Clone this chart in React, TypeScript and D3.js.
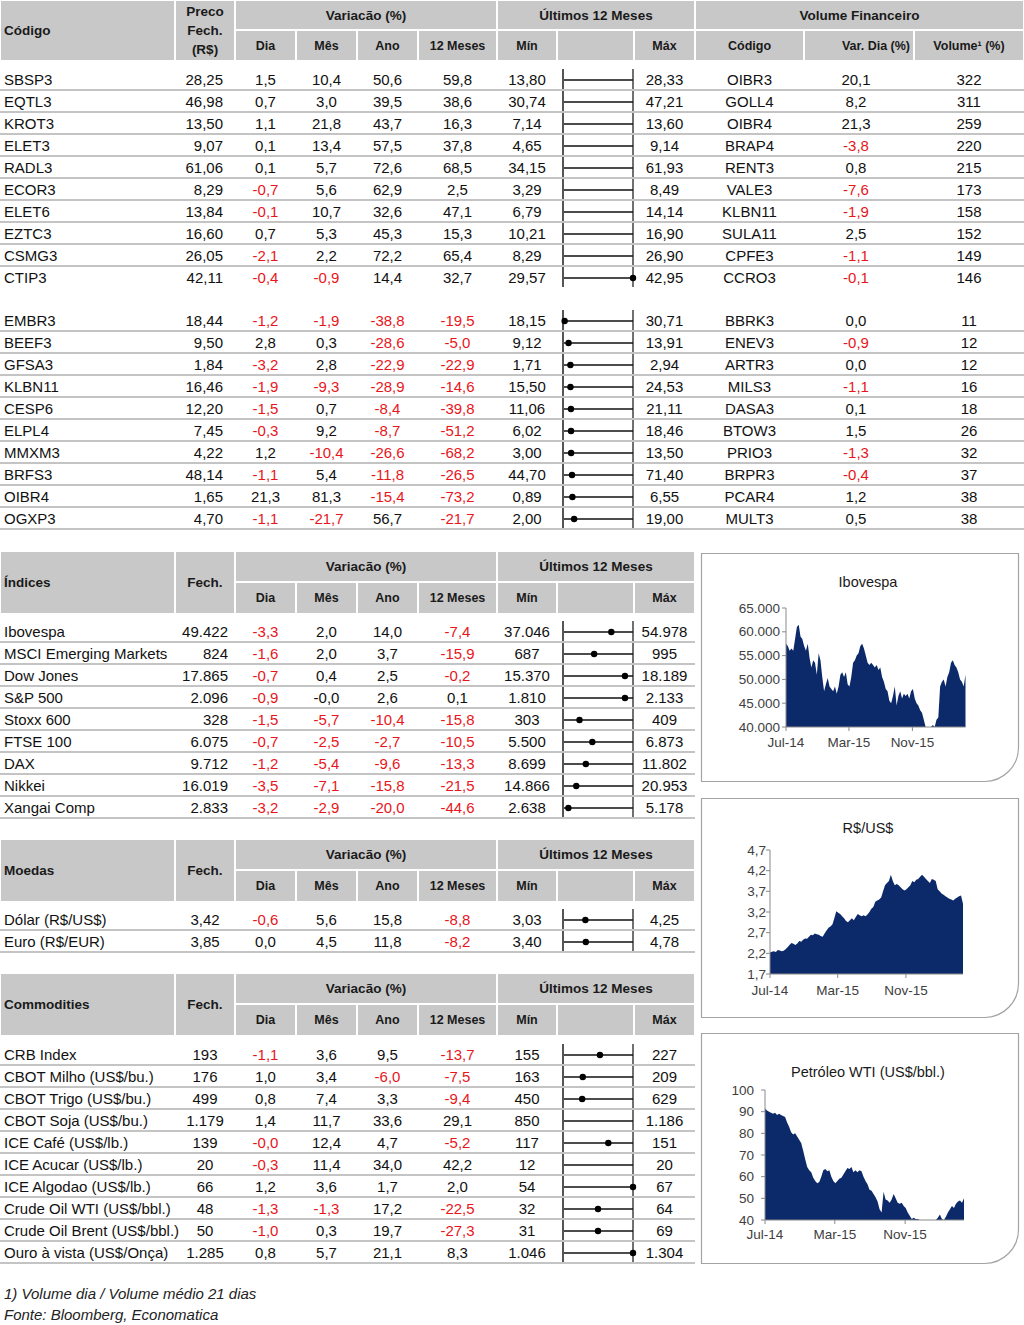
import React from "react";
import * as d3 from "d3";

// ---------------- DATA ----------------
// Top table, block 1 (maiores altas 12m)
const altaCodigo = ["SBSP3", "EQTL3", "KROT3", "ELET3", "RADL3", "ECOR3", "ELET6", "EZTC3", "CSMG3", "CTIP3"];
const altaPreco = [28.25, 46.98, 13.5, 9.07, 61.06, 8.29, 13.84, 16.6, 26.05, 42.11];
const altaDia = [1.5, 0.7, 1.1, 0.1, 0.1, -0.7, -0.1, 0.7, -2.1, -0.4];
const altaMes = [10.4, 3.0, 21.8, 13.4, 5.7, 5.6, 10.7, 5.3, 2.2, -0.9];
const altaAno = [50.6, 39.5, 43.7, 57.5, 72.6, 62.9, 32.6, 45.3, 72.2, 14.4];
const alta12m = [59.8, 38.6, 16.3, 37.8, 68.5, 2.5, 47.1, 15.3, 65.4, 32.7];
const altaMin = [13.8, 30.74, 7.14, 4.65, 34.15, 3.29, 6.79, 10.21, 8.29, 29.57];
const altaMax = [28.33, 47.21, 13.6, 9.14, 61.93, 8.49, 14.14, 16.9, 26.9, 42.95];
const altaPonto: (number | null)[] = [null, null, null, null, null, null, null, null, null, 42.95];

const volAltaCodigo = ["OIBR3", "GOLL4", "OIBR4", "BRAP4", "RENT3", "VALE3", "KLBN11", "SULA11", "CPFE3", "CCRO3"];
const volAltaVar = [20.1, 8.2, 21.3, -3.8, 0.8, -7.6, -1.9, 2.5, -1.1, -0.1];
const volAltaVolume = [322, 311, 259, 220, 215, 173, 158, 152, 149, 146];

// Top table, block 2 (maiores baixas 12m)
const baixaCodigo = ["EMBR3", "BEEF3", "GFSA3", "KLBN11", "CESP6", "ELPL4", "MMXM3", "BRFS3", "OIBR4", "OGXP3"];
const baixaPreco = [18.44, 9.5, 1.84, 16.46, 12.2, 7.45, 4.22, 48.14, 1.65, 4.7];
const baixaDia = [-1.2, 2.8, -3.2, -1.9, -1.5, -0.3, 1.2, -1.1, 21.3, -1.1];
const baixaMes = [-1.9, 0.3, 2.8, -9.3, 0.7, 9.2, -10.4, 5.4, 81.3, -21.7];
const baixaAno = [-38.8, -28.6, -22.9, -28.9, -8.4, -8.7, -26.6, -11.8, -15.4, 56.7];
const baixa12m = [-19.5, -5.0, -22.9, -14.6, -39.8, -51.2, -68.2, -26.5, -73.2, -21.7];
const baixaMin = [18.15, 9.12, 1.71, 15.5, 11.06, 6.02, 3.0, 44.7, 0.89, 2.0];
const baixaMax = [30.71, 13.91, 2.94, 24.53, 21.11, 18.46, 13.5, 71.4, 6.55, 19.0];
const baixaPonto: (number | null)[] = [18.44, 9.5, 1.84, 16.46, 12.2, 7.45, 4.22, 48.14, 1.65, 4.7];

const volBaixaCodigo = ["BBRK3", "ENEV3", "ARTR3", "MILS3", "DASA3", "BTOW3", "PRIO3", "BRPR3", "PCAR4", "MULT3"];
const volBaixaVar = [0.0, -0.9, 0.0, -1.1, 0.1, 1.5, -1.3, -0.4, 1.2, 0.5];
const volBaixaVolume = [11, 12, 12, 16, 18, 26, 32, 37, 38, 38];

// Índices
const indNome = ["Ibovespa", "MSCI Emerging Markets", "Dow Jones", "S&P 500", "Stoxx 600", "FTSE 100", "DAX", "Nikkei", "Xangai Comp"];
const indFech = [49422, 824, 17865, 2096, 328, 6075, 9712, 16019, 2833];
const indDia = [-3.3, -1.6, -0.7, -0.9, -1.5, -0.7, -1.2, -3.5, -3.2];
const indMes = [2.0, 2.0, 0.4, -0, -5.7, -2.5, -5.4, -7.1, -2.9];
const indAno = [14.0, 3.7, 2.5, 2.6, -10.4, -2.7, -9.6, -15.8, -20.0];
const ind12m = [-7.4, -15.9, -0.2, 0.1, -15.8, -10.5, -13.3, -21.5, -44.6];
const indMin = [37046, 687, 15370, 1810, 303, 5500, 8699, 14866, 2638];
const indMax = [54978, 995, 18189, 2133, 409, 6873, 11802, 20953, 5178];
const indPonto: (number | null)[] = [49422, 824, 17865, 2096, 328, 6075, 9712, 16019, 2833];

// Moedas
const moeNome = ["Dólar (R$/US$)", "Euro (R$/EUR)"];
const moeFech = [3.42, 3.85];
const moeDia = [-0.6, 0.0];
const moeMes = [5.6, 4.5];
const moeAno = [15.8, 11.8];
const moe12m = [-8.8, -8.2];
const moeMin = [3.03, 3.4];
const moeMax = [4.25, 4.78];
const moePonto: (number | null)[] = [3.42, 3.85];

// Commodities
const comNome = ["CRB Index", "CBOT Milho (US$/bu.)", "CBOT Trigo (US$/bu.)", "CBOT Soja (US$/bu.)", "ICE Café (US$/lb.)", "ICE Acucar (US$/lb.)", "ICE Algodao (US$/lb.)", "Crude Oil WTI (US$/bbl.)", "Crude Oil Brent (US$/bbl.)", "Ouro à vista (US$/Onça)"];
const comFech = [193, 176, 499, 1179, 139, 20, 66, 48, 50, 1285];
const comDia = [-1.1, 1.0, 0.8, 1.4, -0.03, -0.3, 1.2, -1.3, -1.0, 0.8];
const comMes = [3.6, 3.4, 7.4, 11.7, 12.4, 11.4, 3.6, -1.3, 0.3, 5.7];
const comAno = [9.5, -6.0, 3.3, 33.6, 4.7, 34.0, 1.7, 17.2, 19.7, 21.1];
const com12m = [-13.7, -7.5, -9.4, 29.1, -5.2, 42.2, 2.0, -22.5, -27.3, 8.3];
const comMin = [155, 163, 450, 850, 117, 12, 54, 32, 31, 1046];
const comMax = [227, 209, 629, 1186, 151, 20, 67, 64, 69, 1304];
const comPonto: (number | null)[] = [193, 176, 499, null, 139, null, 67, 48, 50, 1304];

// Mini charts (weekly closes from Jul-2014)
const ibovespa = [57.5, 57.0, 56.0, 56.5, 56.0, 58.5, 61.0, 61.5, 59.0, 58.5, 57.0, 56.0, 57.5, 54.5, 52.5, 54.0, 53.5, 51.0, 55.5, 54.0,
  50.5, 47.5, 49.0, 50.3, 48.5, 48.0, 47.5, 48.5, 47.0, 48.5, 51.0, 51.5, 50.5, 51.5, 49.0, 48.5, 50.5, 53.5, 54.0, 55.0,
  55.5, 57.0, 57.5, 56.5, 55.0, 53.5, 53.0, 53.5, 53.0, 52.5, 53.0, 52.0, 52.5, 50.5, 49.5, 48.0, 47.5, 45.5, 45.0, 46.5,
  48.5, 44.5, 46.5, 47.5, 46.0, 47.0, 46.5, 47.0, 46.0, 47.5, 48.0, 46.0, 45.0, 44.5, 43.5, 43.0, 41.5, 40.0, 39.0, 38.5,
  37.5, 40.4, 38.5, 41.5, 42.0, 48.5, 49.5, 50.0, 48.5, 50.5, 51.5, 53.5, 54.0, 53.0, 52.5, 51.5, 50.0, 49.5, 48.5, 51.0].map(v => v * 1000);
const dolar = [2.22, 2.24, 2.25, 2.23, 2.28, 2.27, 2.25, 2.26, 2.3, 2.35, 2.4, 2.45, 2.43, 2.4, 2.44, 2.5, 2.48, 2.53, 2.56, 2.55,
  2.6, 2.65, 2.64, 2.68, 2.66, 2.65, 2.62, 2.6, 2.68, 2.75, 2.82, 2.85, 2.9, 3.05, 3.22, 3.18, 3.15, 3.1, 3.05, 2.98,
  2.95, 3.0, 3.05, 3.0, 3.08, 3.15, 3.12, 3.1, 3.12, 3.1, 3.14, 3.2, 3.28, 3.32, 3.45, 3.48, 3.5, 3.55, 3.7, 3.85,
  3.9, 3.95, 4.1, 3.95, 3.85, 3.88, 3.85, 3.8, 3.75, 3.72, 3.75, 3.8, 3.85, 3.95, 3.92, 3.98, 4.0, 4.05, 4.1, 4.05,
  4.0, 3.95, 3.9, 4.0, 3.98, 3.95, 3.75, 3.7, 3.65, 3.62, 3.58, 3.55, 3.52, 3.5, 3.48, 3.52, 3.55, 3.58, 3.6, 3.4];
const wti = [91.5, 90.5, 90.0, 89.5, 89.0, 89.5, 88.5, 89.0, 88.5, 88.0, 87.5, 85.0, 83.0, 80.5, 79.5, 80.0, 78.5, 77.0, 75.5, 72.0,
  68.0, 64.5, 63.0, 62.0, 59.5, 58.0, 57.0, 57.5, 60.0, 63.0, 63.5, 62.5, 63.0, 60.0, 58.0, 57.0, 58.0, 59.0, 59.5, 61.0,
  62.5, 64.0, 63.5, 64.5, 62.0, 63.0, 62.0, 63.0, 62.5, 60.0, 58.0, 56.5, 54.0, 53.5, 52.0, 50.5, 48.5, 45.0, 43.5, 53.0,
  49.5, 49.0, 48.0, 49.5, 52.0, 50.0, 48.0, 47.5, 48.0, 46.5, 45.5, 43.5, 42.0, 40.5, 41.0, 40.5, 40.5, 38.0, 36.5, 35.0,
  37.0, 34.5, 32.0, 33.5, 36.0, 39.5, 41.0, 42.5, 40.5, 39.5, 41.5, 43.5, 45.0, 46.5, 45.5, 47.5, 48.5, 49.0, 48.0, 50.0];
const ibovTicks = [40000, 45000, 50000, 55000, 60000, 65000];
const dolarTicks = [1.7, 2.2, 2.7, 3.2, 3.7, 4.2, 4.7];
const wtiTicks = [40, 50, 60, 70, 80, 90, 100];
const xTickDates = [new Date(2014, 6, 1), new Date(2015, 2, 1), new Date(2015, 10, 1)];
const seriesStart = new Date(2014, 6, 1);

// ---------------- FORMAT / STYLE ----------------
const FONT = "'Liberation Sans', Arial, Helvetica, sans-serif";
const HEAD_BG = "#c8c8c8";
const SEP = "#c4c4c4";
const RED = "#e8161b";
const TXT = "#111";
const NAVY = "#0c2a6a";
const locale = d3.formatLocale({ decimal: ",", thousands: ".", grouping: [3], currency: ["R$", ""], minus: "-" });
const fmtInt = locale.format(",.0f");
const fmtDec2 = (v: number) => v.toFixed(2).replace(".", ",");
const fmtDec1 = (v: number) => v.toFixed(1).replace(".", ",");
const isNeg = (v: number) => v < 0 || Object.is(v, -0);
const fmtPct = (v: number) => (isNeg(v) ? "-" : "") + Math.abs(v).toFixed(1).replace(".", ",");

const EDGES = [0, 175, 235, 296, 357, 418, 497, 557, 634, 695, 804, 914, 1024];
const CX = (i: number) => (EDGES[i] + EDGES[i + 1]) / 2;
const BAR_L = 563;
const BAR_R = 633;
const ROW_H = 22;

function T(props: any) {
  const { children, ...rest } = props;
  return (
    <text fontFamily={FONT} dominantBaseline="central" {...rest}>
      {children}
    </text>
  );
}

function Header({ y0, ySplit, y1, title, priceLabel, volume }: any) {
  const cells: any[] = [];
  const rect = (a: number, b: number, t: number, bt: number, k: string) => (
    <rect key={k} x={a + 1} y={t + 1} width={b - a - 2} height={bt - t - 2} fill={HEAD_BG} />
  );
  cells.push(rect(EDGES[0], EDGES[1], y0, y1, "c0"));
  cells.push(rect(EDGES[1], EDGES[2], y0, y1, "c1"));
  cells.push(rect(EDGES[2], EDGES[6], y0, ySplit, "g1"));
  cells.push(rect(EDGES[6], EDGES[9], y0, ySplit, "g2"));
  for (let i = 2; i < 9; i++) cells.push(rect(EDGES[i], EDGES[i + 1], ySplit, y1, "s" + i));
  if (volume) {
    cells.push(rect(EDGES[9], EDGES[12], y0, ySplit, "g3"));
    for (let i = 9; i < 12; i++) cells.push(rect(EDGES[i], EDGES[i + 1], ySplit, y1, "s" + i));
  }
  const ym = (y0 + y1) / 2;
  const yt = (y0 + ySplit) / 2;
  const yb = (ySplit + y1) / 2;
  const hb = { fontWeight: "bold", fill: "#1a1a1a" };
  return (
    <g>
      {cells}
      <T x={4} y={ym} fontSize={13.5} {...hb}>{title}</T>
      {priceLabel.length === 1 ? (
        <T x={CX(1)} y={ym} fontSize={13.5} textAnchor="middle" {...hb}>{priceLabel[0]}</T>
      ) : (
        priceLabel.map((s: string, i: number) => (
          <T key={i} x={CX(1)} y={y0 + 11 + i * 19} fontSize={13.5} textAnchor="middle" {...hb}>{s}</T>
        ))
      )}
      <T x={(EDGES[2] + EDGES[6]) / 2} y={yt} fontSize={13.5} textAnchor="middle" {...hb}>Variacão (%)</T>
      <T x={(EDGES[6] + EDGES[9]) / 2} y={yt} fontSize={13.5} textAnchor="middle" {...hb}>Últimos 12 Meses</T>
      {["Dia", "Mês", "Ano", "12 Meses"].map((s, i) => (
        <T key={s} x={CX(2 + i)} y={yb} fontSize={12.5} textAnchor="middle" {...hb}>{s}</T>
      ))}
      <T x={CX(6)} y={yb} fontSize={12.5} textAnchor="middle" {...hb}>Mín</T>
      <T x={CX(8)} y={yb} fontSize={12.5} textAnchor="middle" {...hb}>Máx</T>
      {volume && (
        <g>
          <T x={(EDGES[9] + EDGES[12]) / 2} y={yt} fontSize={13.5} textAnchor="middle" {...hb}>Volume Financeiro</T>
          <T x={CX(9)} y={yb} fontSize={12.5} textAnchor="middle" {...hb}>Código</T>
          <T x={910} y={yb} fontSize={12.5} textAnchor="end" {...hb}>Var. Dia (%)</T>
          <T x={CX(11)} y={yb} fontSize={12.5} textAnchor="middle" {...hb}>Volume¹ (%)</T>
        </g>
      )}
    </g>
  );
}

function Rows({ yc0, names, prices, dia, mes, ano, m12, mins, maxs, dots, fmt, priceX, priceAnchor, width, bottomLine, vol }: any) {
  const out: any[] = [];
  const n = names.length;
  for (let i = 0; i < n; i++) {
    const yc = yc0 + i * ROW_H;
    if (i < n - 1 || bottomLine) {
      out.push(<line key={"sep" + i} x1={0} x2={width} y1={yc + 11} y2={yc + 11} stroke={SEP} strokeWidth={2} />);
    }
    const x = d3.scaleLinear().domain([mins[i], maxs[i]]).range([BAR_L, BAR_R]).clamp(true);
    out.push(
      <g key={"r" + i}>
        <T x={4} y={yc} fontSize={15} fill={TXT}>{names[i]}</T>
        <T x={priceX} y={yc} fontSize={15} fill={TXT} textAnchor={priceAnchor}>{fmt(prices[i])}</T>
        {[dia[i], mes[i], ano[i], m12[i]].map((v: number, j: number) => (
          <T key={j} x={CX(2 + j)} y={yc} fontSize={15} textAnchor="middle" fill={v < 0 ? RED : TXT}>{fmtPct(v)}</T>
        ))}
        <T x={CX(6)} y={yc} fontSize={15} fill={TXT} textAnchor="middle">{fmt(mins[i])}</T>
        <T x={CX(8)} y={yc} fontSize={15} fill={TXT} textAnchor="middle">{fmt(maxs[i])}</T>
        <line x1={x(mins[i])} x2={x(maxs[i])} y1={yc + 1} y2={yc + 1} stroke="#111" strokeWidth={1.3} />
        <line x1={x(mins[i])} x2={x(mins[i])} y1={yc - 10} y2={yc + 10} stroke="#555" strokeWidth={2} />
        <line x1={x(maxs[i])} x2={x(maxs[i])} y1={yc - 10} y2={yc + 10} stroke="#111" strokeWidth={1.2} />
        {dots[i] != null && <circle cx={x(dots[i])} cy={yc + 1} r={3.2} fill="#000" />}
        {vol && (
          <g>
            <T x={CX(9)} y={yc} fontSize={15} fill={TXT} textAnchor="middle">{vol.codes[i]}</T>
            <T x={856} y={yc} fontSize={15} fill={vol.vars[i] < 0 ? RED : TXT} textAnchor="middle">{fmtPct(vol.vars[i])}</T>
            <T x={CX(11)} y={yc} fontSize={15} fill={TXT} textAnchor="middle">{fmtInt(vol.volumes[i])}</T>
          </g>
        )}
      </g>
    );
  }
  return <g>{out}</g>;
}

function MiniChart({ box, title, titleY, plot, values, ticks, yFmt, labelGap, xLabelDy }: any) {
  const dates = values.map((_: number, i: number) => d3.timeWeek.offset(seriesStart, i));
  const x = d3.scaleTime().domain([dates[0], dates[dates.length - 1]]).range([plot.x0, plot.x1]);
  const y = d3.scaleLinear().domain([ticks[0], ticks[ticks.length - 1]]).range([plot.y1, plot.y0]).clamp(true);
  const area = d3
    .area<number>()
    .x((_, i) => x(dates[i]))
    .y0(plot.y1)
    .y1((d) => y(d))
    .curve(d3.curveLinear);
  const r = 34;
  const { x0, y0, x1, y1 } = box;
  const boxPath = `M${x0},${y0}H${x1}V${y1 - r}A${r},${r} 0 0 1 ${x1 - r},${y1}H${x0}Z`;
  const fmtTick = d3.timeFormat("%b-%y");
  return (
    <g>
      <path d={boxPath} fill="#fff" stroke="#a3a3a3" strokeWidth={1.2} />
      <T x={(x0 + x1) / 2 + 8} y={titleY} fontSize={14.5} textAnchor="middle" fill="#1a1a1a">{title}</T>
      <path d={area(values) || ""} fill={NAVY} />
      <line x1={plot.x0} x2={plot.x0} y1={plot.y0} y2={plot.y1} stroke="#8a8a8a" strokeWidth={1} />
      <line x1={plot.x0} x2={plot.x1} y1={plot.y1} y2={plot.y1} stroke="#8a8a8a" strokeWidth={1} />
      {ticks.map((t: number) => (
        <g key={t}>
          <line x1={plot.x0 - 4} x2={plot.x0} y1={y(t)} y2={y(t)} stroke="#8a8a8a" />
          <T x={plot.x0 - labelGap} y={y(t)} fontSize={13.5} textAnchor="end" fill="#404040">{yFmt(t)}</T>
        </g>
      ))}
      {xTickDates.map((d, i) => (
        <g key={i}>
          <line x1={x(d)} x2={x(d)} y1={plot.y1} y2={plot.y1 + 4} stroke="#8a8a8a" />
          <T x={x(d)} y={plot.y1 + xLabelDy} fontSize={13.5} textAnchor="middle" fill="#404040">{fmtTick(d)}</T>
        </g>
      ))}
    </g>
  );
}

export default function App() {
  return (
    <svg width={1024} height={1325} viewBox="0 0 1024 1325" style={{ position: "absolute", left: 0, top: 0, background: "#fff" }}>
      <rect x={0} y={0} width={1024} height={1325} fill="#fff" />
      {/* Ações */}
      <Header y0={0} ySplit={30} y1={61} title="Código" priceLabel={["Preco", "Fech.", "(R$)"]} volume />
      <Rows yc0={79} names={altaCodigo} prices={altaPreco} dia={altaDia} mes={altaMes} ano={altaAno} m12={alta12m}
        mins={altaMin} maxs={altaMax} dots={altaPonto} fmt={fmtDec2} priceX={223} priceAnchor="end" width={1024}
        bottomLine={false} vol={{ codes: volAltaCodigo, vars: volAltaVar, volumes: volAltaVolume }} />
      <Rows yc0={320} names={baixaCodigo} prices={baixaPreco} dia={baixaDia} mes={baixaMes} ano={baixaAno} m12={baixa12m}
        mins={baixaMin} maxs={baixaMax} dots={baixaPonto} fmt={fmtDec2} priceX={223} priceAnchor="end" width={1024}
        bottomLine={true} vol={{ codes: volBaixaCodigo, vars: volBaixaVar, volumes: volBaixaVolume }} />

      {/* Índices */}
      <Header y0={551} ySplit={582} y1={614} title="Índices" priceLabel={["Fech."]} />
      <Rows yc0={631} names={indNome} prices={indFech} dia={indDia} mes={indMes} ano={indAno} m12={ind12m}
        mins={indMin} maxs={indMax} dots={indPonto} fmt={fmtInt} priceX={228} priceAnchor="end" width={695} bottomLine />

      {/* Moedas */}
      <Header y0={839} ySplit={870} y1={902} title="Moedas" priceLabel={["Fech."]} />
      <Rows yc0={919} names={moeNome} prices={moeFech} dia={moeDia} mes={moeMes} ano={moeAno} m12={moe12m}
        mins={moeMin} maxs={moeMax} dots={moePonto} fmt={fmtDec2} priceX={205} priceAnchor="middle" width={695} bottomLine />

      {/* Commodities */}
      <Header y0={973} ySplit={1004} y1={1036} title="Commodities" priceLabel={["Fech."]} />
      <Rows yc0={1054} names={comNome} prices={comFech} dia={comDia} mes={comMes} ano={comAno} m12={com12m}
        mins={comMin} maxs={comMax} dots={comPonto} fmt={fmtInt} priceX={205} priceAnchor="middle" width={695} bottomLine />

      {/* Charts */}
      <MiniChart box={{ x0: 701.5, y0: 553.5, x1: 1018.5, y1: 781.5 }} title="Ibovespa" titleY={582}
        plot={{ x0: 786, x1: 965.5, y0: 608, y1: 727 }} values={ibovespa} ticks={ibovTicks} yFmt={fmtInt} labelGap={6} xLabelDy={15} />
      <MiniChart box={{ x0: 701.5, y0: 798.5, x1: 1018.5, y1: 1017.5 }} title="R$/US$" titleY={828}
        plot={{ x0: 770, x1: 963, y0: 850, y1: 974 }} values={dolar} ticks={dolarTicks} yFmt={fmtDec1} labelGap={4} xLabelDy={16} />
      <MiniChart box={{ x0: 701.5, y0: 1033.5, x1: 1018.5, y1: 1263.5 }} title="Petróleo WTI (US$/bbl.)" titleY={1072}
        plot={{ x0: 765, x1: 964, y0: 1090, y1: 1220 }} values={wti} ticks={wtiTicks} yFmt={fmtInt} labelGap={11} xLabelDy={14} />

      {/* Footnotes */}
      <T x={4} y={1293} fontSize={15} fontStyle="italic" fill="#222">1) Volume dia / Volume médio 21 dias</T>
      <T x={4} y={1314} fontSize={15} fontStyle="italic" fill="#222">Fonte: Bloomberg, Economatica</T>
    </svg>
  );
}
